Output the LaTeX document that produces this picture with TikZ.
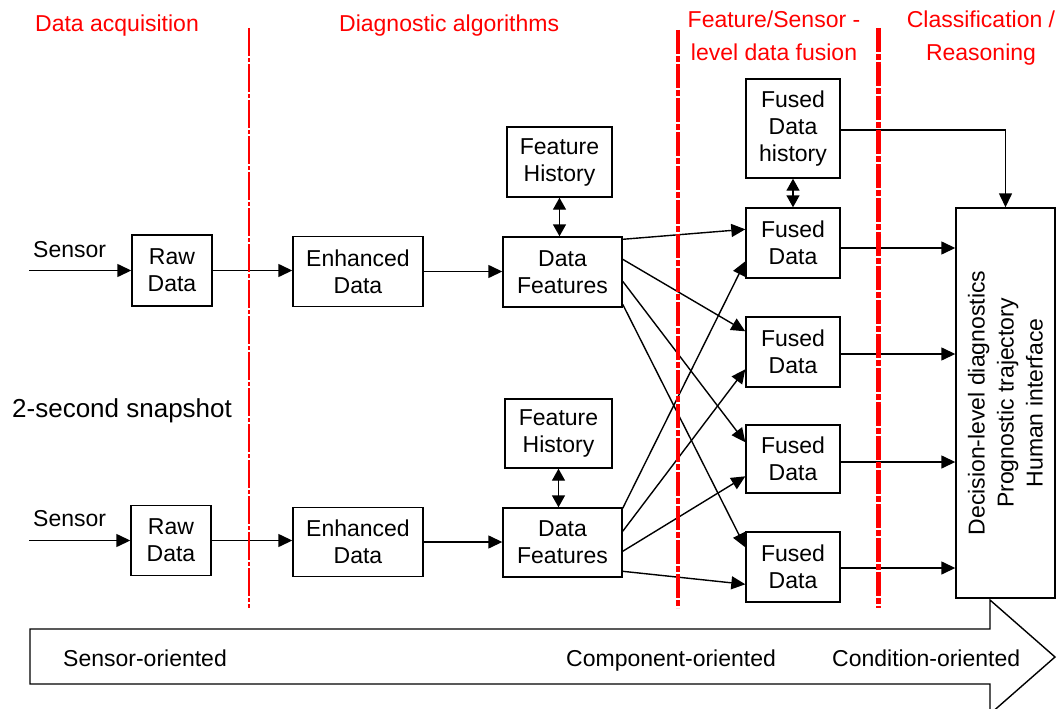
\documentclass[tikz,border=0pt]{standalone}
\usepackage{fontspec}
\setmainfont{Liberation Sans}
\usetikzlibrary{arrows.meta,calc}

\begin{document}
\begin{tikzpicture}[x=1pt,y=-1pt,
  txt/.style={font=\fontsize{23}{27}\selectfont},
  box/.style={draw, line width=1.4pt, align=center, inner sep=0pt, txt},
  link/.style={line width=1.4pt, -{Triangle[length=14pt,width=13pt]}},
  twoway/.style={line width=1.4pt, {Triangle[length=12pt,width=13pt]}-{Triangle[length=12pt,width=13pt]}},
  heading/.style={text=red, inner sep=0pt, font=\fontsize{23}{27}\selectfont},
  label/.style={inner sep=0pt, anchor=base west, txt},
  stagethin/.style={red, line width=1.3pt, dash pattern=on 28pt off 2pt on 4pt off 2pt},
  stagemid/.style={red, line width=3.4pt, dash pattern=on 24pt off 2pt on 6pt off 2pt},
  stagethick/.style={red, line width=5pt, dash pattern=on 24pt off 2pt on 6pt off 2pt},
]
\useasboundingbox (0,0) rectangle (1058,709);

% ---- stage headings ----
\node[heading, anchor=base west] (h1) at (35,32) {Data acquisition};
\node[heading, anchor=base west] (h2) at (339,32) {Diagnostic algorithms};
\node[heading, anchor=base] (h3a) at (774,28) {Feature/Sensor -};
\node[heading, anchor=base] (h3b) at (774,60) {level data fusion};
\node[heading, anchor=base] (h4a) at (981,28) {Classification /};
\node[heading, anchor=base] (h4b) at (981,60) {Reasoning};

% ---- processing blocks ----
\node[box, minimum width=80pt, minimum height=71pt] (raw1) at (172,270.5) {Raw\\Data};
\node[box, minimum width=80pt, minimum height=70pt] (raw2) at (171,540.5) {Raw\\Data};
\node[box, minimum width=130pt, minimum height=70pt] (enh1) at (358,271.5) {Enhanced\\Data};
\node[box, minimum width=130pt, minimum height=69pt] (enh2) at (358,542) {Enhanced\\Data};
\node[box, minimum width=105pt, minimum height=70pt] (fh1) at (559.5,162) {Feature\\History};
\node[box, minimum width=119pt, minimum height=70pt] (df1) at (562.5,272) {Data\\Features};
\node[box, minimum width=107pt, minimum height=69pt] (fh2) at (558.5,433.5) {Feature\\History};
\node[box, minimum width=119pt, minimum height=69pt] (df2) at (562.5,542.5) {Data\\Features};
\node[box, minimum width=94pt, minimum height=99pt] (fdh) at (793,128.5) {Fused\\Data\\history};
\node[box, minimum width=94pt, minimum height=70pt] (f1) at (793,243) {Fused\\Data};
\node[box, minimum width=94pt, minimum height=70pt] (f2) at (793,352) {Fused\\Data};
\node[box, minimum width=94pt, minimum height=68pt] (f3) at (793,459) {Fused\\Data};
\node[box, minimum width=94pt, minimum height=70pt] (f4) at (793,567) {Fused\\Data};
\node[box, minimum width=99pt, minimum height=390pt] (dec) at (1005.5,403) {};
\node[rotate=90, align=center, inner sep=0pt, font=\fontsize{23}{29}\selectfont] (dectext) at (dec.center)
  {Decision-level diagnostics\\Prognostic trajectory\\Human interface};

% ---- sensor inputs ----
\coordinate (s1) at (29,270.5);
\coordinate (s2) at (29,540.5);
\node[label] (s1label) at (33,257) {Sensor};
\node[label] (s2label) at (33,526) {Sensor};
\node[inner sep=0pt, anchor=base west, font=\fontsize{26}{30}\selectfont] (snap) at (12,417) {2-second snapshot};

\draw[link] (s1) -- (raw1.west);
\draw[link] (s2) -- (raw2.west);
\draw[link] (raw1.east) -- (raw1.east -| enh1.west);
\draw[link] (raw2.east) -- (raw2.east -| enh2.west);
\draw[link] (enh1.east) -- (enh1.east -| df1.west);
\draw[link] (enh2.east) -- (enh2.east -| df2.west);
\draw[twoway] (fh1.south) -- (fh1.south |- df1.north);
\draw[twoway] (fh2.south) -- (fh2.south |- df2.north);
\draw[twoway] (fdh.south) -- (f1.north);

% ---- feature-level fusion links ----
\draw[link] ([yshift=-3pt]df1.north east) -- ([yshift=-22pt]f1.north west);
\draw[link] ([yshift=-23pt]df1.north east) -- ([yshift=-15pt]f2.north west);
\draw[link] ([yshift=-45pt]df1.north east) -- ([yshift=-18pt]f3.north west);
\draw[link] ([yshift=-68pt]df1.north east) -- ([yshift=-16pt]f4.north west);
\draw[link] ([yshift=-1pt]df2.north east) -- ([yshift=-54pt]f1.north west);
\draw[link] ([yshift=-24pt]df2.north east) -- ([yshift=-53pt]f2.north west);
\draw[link] ([yshift=-44pt]df2.north east) -- ([yshift=-52pt]f3.north west);
\draw[link] ([yshift=-64pt]df2.north east) -- ([yshift=-53pt]f4.north west);

% ---- decision-level links ----
\coordinate (o1) at ([yshift=-5pt]f1.east);
\coordinate (o2) at ([yshift=-2pt]f2.east);
\coordinate (o3) at ([yshift=-3pt]f3.east);
\coordinate (o4) at ([yshift=-1pt]f4.east);
\draw[link] (o1) -- (o1 -| dec.west);
\draw[link] (o2) -- (o2 -| dec.west);
\draw[link] (o3) -- (o3 -| dec.west);
\draw[link] (o4) -- (o4 -| dec.west);
\coordinate (hout) at ([yshift=-1.5pt]fdh.east);
\draw[link] (hout) -| (dec.north);

% ---- stage boundaries ----
\coordinate (b1t) at (249,28);  \coordinate (b1b) at (249,608);
\coordinate (b2t) at (678,30);  \coordinate (b2b) at (678,608);
\coordinate (b3t) at (878,28);  \coordinate (b3b) at (878,608);
\draw[stagethin] (b1t) -- (b1b);
\draw[stagemid] (b2t) -- (b2b);
\draw[stagethick] (b3t) -- (b3b);

% ---- orientation arrow ----
\begin{scope}
\clip (0,0) rectangle (1058,709);
\draw[line width=1.4pt, line join=miter]
  (30,629) -- (990,629) -- (990,600) -- (1055,657) -- (990,714) -- (990,684) -- (30,684) -- cycle;
\end{scope}
\node[label] (o-sensor) at (63,666) {Sensor-oriented};
\node[label] (o-comp) at (566,666) {Component-oriented};
\node[label] (o-cond) at (832,666) {Condition-oriented};
\end{tikzpicture}
\end{document}
